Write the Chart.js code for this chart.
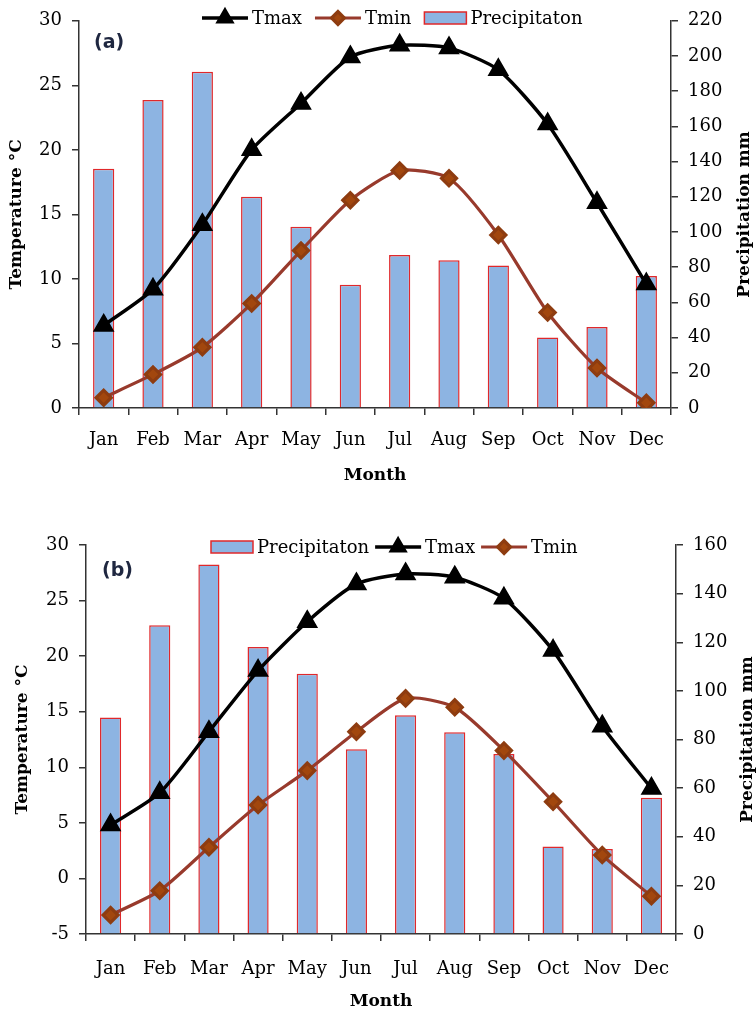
<!DOCTYPE html>
<html>
<head>
<meta charset="utf-8">
<script src="https://cdn.jsdelivr.net/npm/chart.js@4.4.0/dist/chart.umd.min.js"></script>
<style>
  html, body { margin: 0; padding: 0; background: #fff; }
  #wrap { position: relative; width: 756px; height: 1013px; }
  canvas { position: absolute; left: 0; }
</style>
</head>
<body>
<div id="wrap">
  <canvas id="chartA" width="756" height="500" style="top:0px"></canvas>
  <canvas id="chartB" width="756" height="493" style="top:520px"></canvas>
</div>
<script>
// data
const months = ['Jan', 'Feb', 'Mar', 'Apr', 'May', 'Jun', 'Jul', 'Aug', 'Sep', 'Oct', 'Nov', 'Dec'];

// panel (a)
const tmaxA = [6.4, 9.2, 14.2, 20.0, 23.6, 27.2, 28.1, 27.9, 26.2, 22.0, 15.9, 9.6];
const tminA = [0.8, 2.6, 4.7, 8.1, 12.2, 16.1, 18.4, 17.8, 13.4, 7.4, 3.1, 0.4];
const precA = [136, 175, 191, 120, 103, 70, 87, 84, 81, 40, 46, 75];

// panel (b)
const tmaxB = [4.8, 7.7, 13.2, 18.7, 23.1, 26.5, 27.4, 27.1, 25.2, 20.5, 13.7, 8.1];
const tminB = [-3.3, -1.1, 2.8, 6.6, 9.7, 13.2, 16.2, 15.4, 11.5, 6.9, 2.1, -1.6];
const precB = [89, 127, 152, 118, 107, 76, 90, 83, 74, 36, 35, 56];

const SERIF = '"DejaVu Serif", "Liberation Serif", serif';
const AXIS = '#333';

// draws the legend row (line + marker, or box) over the plot, like the original
const comboLegend = {
    id: 'comboLegend',
    afterDraw(chart, args, opts) {
        const ctx = chart.ctx;
        ctx.save();
        ctx.font = '18px ' + SERIF;
        ctx.textBaseline = 'middle';
        let x = opts.x;
        const y = opts.y;
        chart.data.datasets.forEach(ds => {
            if (ds.type === 'bar') {
                ctx.fillStyle = ds.backgroundColor;
                ctx.strokeStyle = ds.borderColor;
                ctx.lineWidth = 1.5;
                ctx.fillRect(x, y - 6, 42, 12);
                ctx.strokeRect(x, y - 6, 42, 12);
                x += 42;
            } else {
                ctx.strokeStyle = ds.borderColor;
                ctx.lineWidth = ds.borderWidth;
                ctx.beginPath();
                ctx.moveTo(x, y);
                ctx.lineTo(x + 46, y);
                ctx.stroke();
                ctx.fillStyle = ds.pointBackgroundColor;
                ctx.strokeStyle = ds.pointBorderColor;
                Chart.helpers.drawPoint(ctx, {
                    pointStyle: ds.pointStyle,
                    radius: ds.pointRadius * 0.85,
                    rotation: 0,
                    borderWidth: 1
                }, x + 23, y);
                x += 46;
            }
            x += 4;
            ctx.fillStyle = '#000';
            ctx.fillText(ds.label, x, y + 1);
            x += ctx.measureText(ds.label).width + opts.gap;
        });
        ctx.restore();
    }
};

// panel tag and right axis title (reads bottom to top)
const extras = {
    id: 'extras',
    afterDraw(chart, args, opts) {
        const ctx = chart.ctx;
        const area = chart.chartArea;
        ctx.save();
        ctx.fillStyle = '#1f2740';
        ctx.font = 'bold 19px "DejaVu Sans", "Open Sans", sans-serif';
        ctx.textBaseline = 'middle';
        ctx.fillText(opts.tag, opts.tagX, opts.tagY);

        ctx.fillStyle = '#000';
        ctx.font = 'bold 17px ' + SERIF;
        ctx.textAlign = 'center';
        ctx.translate(opts.rightTitleX, (area.top + area.bottom) / 2);
        ctx.rotate(-Math.PI / 2);
        ctx.fillText('Precipitation mm', 0, 0);
        ctx.restore();
    }
};

function tmaxSet(values) {
    return {
        type: 'line', label: 'Tmax', data: values, yAxisID: 'y', order: 1,
        borderColor: '#000', borderWidth: 3.5, tension: 0.22,
        pointStyle: 'triangle', pointRadius: 9,
        pointBackgroundColor: '#000', pointBorderColor: '#000'
    };
}

function tminSet(values) {
    return {
        type: 'line', label: 'Tmin', data: values, yAxisID: 'y', order: 2,
        borderColor: '#983a2c', borderWidth: 3.2, tension: 0.22,
        pointStyle: 'rectRot', pointRadius: 7.5,
        pointBackgroundColor: '#a2470e', pointBorderColor: '#8e3c10'
    };
}

function precSet(values) {
    return {
        type: 'bar', label: 'Precipitaton', data: values, yAxisID: 'y1', order: 3,
        backgroundColor: '#8db4e2', borderColor: '#e0282b', borderWidth: 1.5,
        barPercentage: 0.43, categoryPercentage: 1
    };
}

function makeChart(id, datasets, lay) {
    const tickFont = { family: SERIF, size: 18 };
    const titleFont = { family: SERIF, size: 17, weight: 'bold' };
    const grid = { drawOnChartArea: false, tickLength: 7, color: AXIS, lineWidth: 1.5 };
    const border = { color: AXIS, width: 1.5 };

    return new Chart(document.getElementById(id), {
        data: { labels: months, datasets: datasets },
        plugins: [comboLegend, extras],
        options: {
            responsive: false,
            animation: false,
            layout: { padding: { top: lay.top, left: 0, right: 0, bottom: 0 } },
            plugins: {
                legend: { display: false },
                tooltip: { enabled: false },
                comboLegend: { x: lay.legendX, y: lay.legendY, gap: lay.legendGap },
                extras: { tag: lay.tag, tagX: lay.tagX, tagY: lay.tagY, rightTitleX: lay.rightTitleX }
            },
            scales: {
                x: {
                    offset: true,
                    grid: Object.assign({ offset: true }, grid),
                    border: border,
                    ticks: { font: tickFont, color: '#000', padding: lay.xPad, maxRotation: 0, autoSkip: false },
                    title: { display: true, text: 'Month', font: titleFont, color: '#000',
                             padding: { top: 0, bottom: lay.monthPad } },
                    afterFit: s => { s.height = lay.xHeight; }
                },
                y: {
                    position: 'left',
                    min: lay.tMin, max: 30,
                    grid: grid, border: border,
                    ticks: { stepSize: 5, font: tickFont, color: '#000', padding: 10 },
                    title: { display: true, text: 'Temperature °C', font: titleFont, color: '#000',
                             padding: { top: lay.leftTitlePad, bottom: 0 } },
                    afterFit: s => { s.width = lay.left; }
                },
                y1: {
                    position: 'right',
                    min: 0, max: lay.pMax,
                    grid: grid, border: border,
                    ticks: { stepSize: 20, font: tickFont, color: '#000', padding: 10 },
                    afterFit: s => { s.width = 756 - lay.right; }
                }
            }
        }
    });
}

makeChart('chartA', [tmaxSet(tmaxA), tminSet(tminA), precSet(precA)], {
    top: 16, xHeight: 92, left: 79, right: 671, tMin: 0, pMax: 220,
    xPad: 15, monthPad: 14, leftTitlePad: 6,
    legendX: 202, legendY: 18, legendGap: 13,
    tag: '(a)', tagX: 94, tagY: 43, rightTitleX: 745
});

makeChart('chartB', [precSet(precB), tmaxSet(tmaxB), tminSet(tminB)], {
    top: 25, xHeight: 79, left: 86, right: 676, tMin: -5, pMax: 160,
    xPad: 18, monthPad: 1, leftTitlePad: 12,
    legendX: 211, legendY: 27, legendGap: 6,
    tag: '(b)', tagX: 102, tagY: 51, rightTitleX: 748
});
</script>
</body>
</html>
